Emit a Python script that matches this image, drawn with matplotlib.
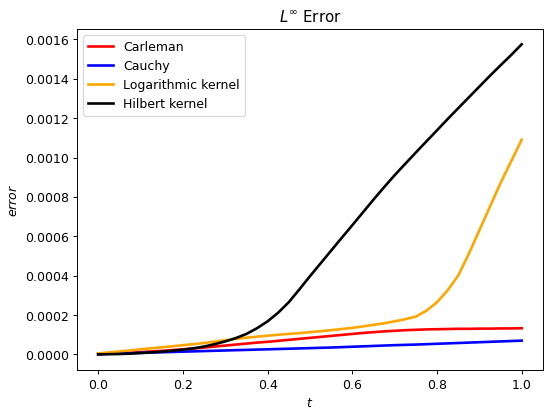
import matplotlib
matplotlib.use("Agg")
import matplotlib.pyplot as plt

plt.rcParams["font.size"] = 10.5

# time grid
t = [0.0, 0.025, 0.05, 0.075, 0.1, 0.125, 0.15, 0.175, 0.2, 0.225,
     0.25, 0.275, 0.3, 0.325, 0.35, 0.375, 0.4, 0.425, 0.45, 0.475,
     0.5, 0.525, 0.55, 0.575, 0.6, 0.625, 0.65, 0.675, 0.7, 0.725,
     0.75, 0.775, 0.8, 0.825, 0.85, 0.875, 0.9, 0.925, 0.95, 0.975, 1.0]

# errors, in units of 1e-6
carleman = [2, 4, 6, 9, 12, 15, 18, 22, 26, 30,
            35, 40, 45, 50, 55, 60, 64, 69, 74, 79,
            84, 89, 94, 99, 104, 109, 113, 117, 120, 123,
            125, 127, 128, 129, 130, 130, 131, 131, 132, 132, 133]
cauchy = [2, 3.5, 5, 6.5, 8, 9.5, 11, 12.5, 14, 15.5,
          17, 18.5, 20, 21.5, 23, 24.5, 26, 27.5, 29, 30.5,
          32, 33.5, 35, 37, 39, 41, 43, 45, 47, 48.5,
          50, 52, 54, 56, 58, 60, 62, 64, 66, 68, 70]
logarithmic = [5, 10, 15, 20, 26, 31, 36, 41, 47, 52,
               58, 65, 72, 79, 85, 90, 95, 100, 104, 108,
               113, 118, 123, 129, 135, 142, 150, 158, 168, 179,
               192, 222, 265, 325, 400, 510, 630, 750, 870, 980, 1090]
hilbert = [0, 1, 2, 4, 7, 10, 14, 19, 24, 31,
           40, 52, 66, 83, 104, 133, 168, 212, 265, 330,
           397, 462, 527, 592, 656, 721, 786, 849, 910, 968,
           1025, 1082, 1138, 1195, 1250, 1305, 1360, 1415, 1468, 1520, 1575]

series = [("Carleman", carleman, "red"),
          ("Cauchy", cauchy, "blue"),
          ("Logarithmic kernel", logarithmic, "orange"),
          ("Hilbert kernel", hilbert, "black")]

fig, ax = plt.subplots(figsize=(6.4, 4.8), dpi=550 / 6.4)
for name, vals, col in series:
    ax.plot(t, [v * 1e-6 for v in vals], color=col, lw=2.2, label=name)

ax.set_title(r"$L^{\infty}$ Error")
ax.set_xlabel(r"$t$")
ax.set_ylabel(r"$error$")
ax.legend(loc="upper left")
fig.subplots_adjust(left=0.14, right=0.987, top=0.929, bottom=0.102)
fig.savefig("out.png")
